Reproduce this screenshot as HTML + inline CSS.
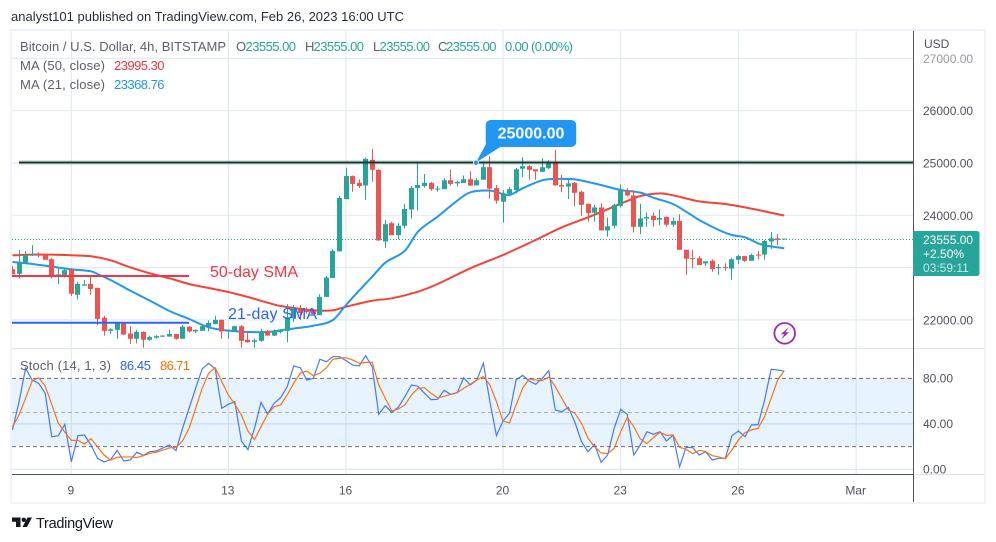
<!DOCTYPE html>
<html lang="en">
<head>
<meta charset="utf-8">
<title>Bitcoin / U.S. Dollar 4h chart</title>
<style>
html,body{margin:0;padding:0;background:#fff;width:996px;height:542px;overflow:hidden}
svg{display:block;font-family:"Liberation Sans",sans-serif}
</style>
</head>
<body>
<svg id="chart" xmlns="http://www.w3.org/2000/svg" width="996" height="542" viewBox="0 0 996 542">
  <defs>
    <clipPath id="plotClip"><rect x="12" y="31" width="901" height="443"/></clipPath>
    <clipPath id="topLabelClip"><rect x="914" y="54.5" width="70" height="14"/></clipPath>
  </defs>
  <rect x="0" y="0" width="996" height="542" fill="#ffffff"/>
  <text x="11" y="21" font-size="13" fill="#2a2e39" textLength="393" lengthAdjust="spacing">analyst101 published on TradingView.com, Feb 26, 2023 16:00 UTC</text>
  <rect x="11" y="30" width="974" height="473" fill="none" stroke="#f0f3fa" stroke-width="2"/>

  <g id="grid"></g>

  <rect x="12" y="378.3" width="901" height="67.7" fill="#2196f3" fill-opacity="0.11"/>
  <g id="stochGrid"></g>

  <g id="maLines" clip-path="url(#plotClip)"></g>
  <g id="candles" clip-path="url(#plotClip)"></g>

  <line x1="12" x2="913" y1="239.5" y2="239.5" stroke="#26a69a" stroke-width="1" stroke-dasharray="1 2"/>

  <line x1="19" x2="913" y1="162.5" y2="162.5" stroke="#0b3d30" stroke-opacity="0.25" stroke-width="4"/>
  <line x1="19" x2="913" y1="162.5" y2="162.5" stroke="#0d3b2e" stroke-width="1.8"/>

  <line x1="12" x2="189" y1="276" y2="276" stroke="#f23645" stroke-width="2"/>
  <line x1="12" x2="189" y1="322.7" y2="322.7" stroke="#2962ff" stroke-width="2"/>
  <text x="210" y="277" font-size="16" fill="#f23645" textLength="88" lengthAdjust="spacing">50-day SMA</text>
  <text x="228" y="319" font-size="16" fill="#2962ff" textLength="89" lengthAdjust="spacing">21-day SMA</text>

  <path d="M476 162.5 L486 144 L501 146.5 Z" fill="#2196f3"/>
  <rect x="485.7" y="120" width="90.5" height="27" rx="5" fill="#2196f3"/>
  <text x="531" y="138.3" font-size="16" font-weight="bold" fill="#ffffff" text-anchor="middle">25000.00</text>
  <circle cx="476" cy="162.7" r="2.6" fill="#2196f3" stroke="#ffffff" stroke-width="0.7"/>

  <g font-size="13">
    <text x="20" y="51" fill="#5d606b" textLength="206" lengthAdjust="spacing">Bitcoin / U.S. Dollar, 4h, BITSTAMP</text>
    <text x="236" y="51" fill="#5d606b">O</text>
    <text x="245.500" y="51" fill="#26a69a" textLength="50.500" lengthAdjust="spacing">23555.00</text>
    <text x="305" y="51" fill="#5d606b">H</text>
    <text x="313.500" y="51" fill="#26a69a" textLength="50.500" lengthAdjust="spacing">23555.00</text>
    <text x="373" y="51" fill="#5d606b">L</text>
    <text x="379.500" y="51" fill="#26a69a" textLength="50.500" lengthAdjust="spacing">23555.00</text>
    <text x="438" y="51" fill="#5d606b">C</text>
    <text x="446" y="51" fill="#26a69a" textLength="50.500" lengthAdjust="spacing">23555.00</text>
    <text x="505" y="51" fill="#26a69a" textLength="68" lengthAdjust="spacing">0.00 (0.00%)</text>
    <text x="20" y="70" fill="#5d606b" textLength="85" lengthAdjust="spacing">MA (50, close)</text>
    <text x="114" y="70" fill="#f23645" textLength="50.500" lengthAdjust="spacing">23995.30</text>
    <text x="20" y="89" fill="#5d606b" textLength="85" lengthAdjust="spacing">MA (21, close)</text>
    <text x="114" y="89" fill="#2196f3" textLength="50.500" lengthAdjust="spacing">23368.76</text>
    <text x="20" y="370" fill="#5d606b" textLength="91" lengthAdjust="spacing">Stoch (14, 1, 3)</text>
    <text x="120" y="370" fill="#2962ff" textLength="31" lengthAdjust="spacing">86.45</text>
    <text x="160" y="370" fill="#ff6d00" textLength="30" lengthAdjust="spacing">86.71</text>
  </g>

  <g id="stochLines" clip-path="url(#plotClip)"></g>

  <line x1="12" x2="984" y1="348.500" y2="348.500" stroke="#e0e3eb" stroke-width="1.200"/>
  <line x1="913" x2="984" y1="474.500" y2="474.500" stroke="#e0e3eb" stroke-width="1"/>
  <line x1="12" x2="913" y1="474.500" y2="474.500" stroke="#50535e" stroke-width="1"/>
  <line x1="913.500" x2="913.500" y1="31" y2="502" stroke="#50535e" stroke-width="1"/>

  <text x="924" y="48" font-size="12" fill="#50535e">USD</text>
  <g id="priceTicks"></g>
  <g id="stochTicks"></g>
  <g id="timeTicks"></g>

  <path d="M913 231 H977 a2.500 2.500 0 0 1 2.500 2.500 V273.500 a2.500 2.500 0 0 1 -2.500 2.500 H913 Z" fill="#26a69a"/>
  <text x="923" y="244" font-size="12" fill="#ffffff">23555.00</text>
  <text x="923" y="258" font-size="12" fill="#ffffff">+2.50%</text>
  <text x="923" y="272" font-size="12" fill="#ffffff" fill-opacity="0.75">03:59:11</text>

  <g>
    <circle cx="784.700" cy="333.300" r="10.300" fill="#ffffff" stroke="#9c27b0" stroke-width="1.800"/>
    <path d="M789.300 326.800 L780.800 334.300 H784.300 L781 339.800 L789 332.300 H785.300 Z" fill="#9c27b0"/>
  </g>

  <g>
    <path d="M12 517.500 H20.500 V527 H16 V521.800 H12 Z M32 517.500 L27 527 H22.500 L27.500 517.500 Z" fill="#131722"/>
    <circle cx="23.800" cy="519.800" r="2.200" fill="#131722"/>
    <text x="36" y="528" font-size="14.500" fill="#131722" textLength="77" lengthAdjust="spacing">TradingView</text>
  </g>
</svg>

<script>
var opens = [
22970,22880,23080,23240,23270,23240,23160,22860,22860,22970,
22480,22655,22690,22610,22040,21790,21810,21930,21740,21640,
21770,21620,21660,21680,21680,21730,21640,21870,21780,21790,
21870,21920,22000,21790,21790,21880,21620,21580,21600,21790,
21700,21770,21790,22030,22200,22190,22170,22090,22440,22800,
23310,24310,24750,24620,24570,25060,24870,23500,23850,23620,
23800,24110,24520,24560,24620,24500,24500,24670,24610,24620,
24690,24570,24680,24920,24520,24260,24410,24480,24890,24940,
24880,24830,24900,25010,24580,24550,24620,24450,24220,24050,
24150,23710,23800,24180,24470,24380,23780,23940,23990,23920,
23970,23820,23890,23340,23180,23180,23080,23130,22990,23010,
22980,23150,23220,23130,23250,23250,23500,23560,23555];
var highs = [
23030,23340,23320,23430,23290,23250,23180,23020,22990,22990,
22730,22760,22830,22620,22080,21840,21940,21935,21880,21810,
21780,21700,21710,21710,21820,21735,21900,21880,21820,21920,
21990,22080,22010,21820,21890,21900,21780,21640,21830,21810,
21820,21820,22300,22285,22285,22240,22210,22490,22840,23350,
24370,24910,24760,24690,25100,25270,24880,23910,23880,23850,
24220,24560,25010,24790,24640,24560,24710,24870,24660,24760,
24840,24710,25030,25130,24580,24480,24540,24910,25110,24960,
24880,25090,25060,25250,24770,24680,24640,24470,24220,24200,
24230,23960,24220,24590,24520,24480,24220,24050,24050,24110,
23975,23960,24020,23340,23340,23220,23120,23160,23070,23080,
23190,23240,23225,23270,23320,23530,23680,23640,23555];
var lows = [
22870,22790,23080,23220,23190,23150,22790,22690,22810,22460,
22390,22655,22480,21900,21700,21730,21640,21710,21540,21550,
21470,21600,21640,21670,21680,21620,21640,21760,21750,21790,
21780,21920,21640,21640,21770,21470,21565,21470,21580,21700,
21690,21740,21570,21960,22000,22120,22110,22090,22440,22800,
23310,24310,24450,24520,24290,24640,23510,23380,23620,23540,
23750,23940,24090,24530,24470,24450,24500,24570,24550,24620,
24560,24570,24680,24320,24220,23860,24410,24420,24730,24680,
24680,24830,24880,24570,24440,24310,24170,23990,23880,23880,
23710,23590,23750,24150,24360,23670,23640,23780,23780,23810,
23780,23780,23340,22860,22980,23050,23030,22920,22860,22940,
22770,23070,23110,23130,23160,23150,23350,23430,23555];
var closes = [
22870,23090,23240,23260,23250,23150,22850,22870,22950,22500,
22690,22680,22590,22020,21790,21820,21940,21720,21640,21770,
21620,21670,21690,21700,21730,21640,21870,21780,21810,21880,
21940,22000,21780,21810,21880,21600,21570,21610,21780,21700,
21790,21810,22050,22220,22130,22150,22110,22440,22810,23320,
24330,24750,24600,24560,25080,24870,23520,23830,23620,23800,
24120,24520,24580,24620,24500,24510,24670,24600,24640,24690,
24570,24670,24920,24510,24280,24420,24500,24880,24940,24870,
24840,24920,25010,24570,24550,24610,24430,24200,24040,24150,
23710,23790,24200,24480,24380,23780,23940,23970,23910,23950,
23820,23890,23340,23170,23170,23050,23120,22970,23010,22990,
23160,23220,23130,23240,23230,23510,23560,23530,23555];

var ma21Bars = [0,3,6,9,12,13,15,18,21,24,27,30,33,36,39,42,46,49,51,53,55,57,60,62,65,68,70,73,75,76,78,81,83,86,88,90,93,96,98,101,103,105,108,110,112,114,115,118];
var ma21Values = [23107,23069,23018,22967,22929,22878,22763,22559,22368,22170,22017,21858,21794,21769,21769,21820,21889,21998,22285,22560,22826,23094,23323,23687,23974,24280,24439,24471,24407,24388,24516,24669,24694,24688,24637,24580,24484,24433,24337,24216,24069,23910,23719,23623,23579,23464,23426,23368];
var ma50Bars = [0,3,6,9,12,15,18,21,24,27,30,33,36,39,41,46,49,51,55,58,62,65,70,75,80,84,88,94,96,99,101,105,109,113,118];
var ma50Values = [23235,23247,23247,23235,23216,23139,23005,22891,22795,22687,22610,22534,22438,22330,22266,22184,22184,22252,22367,22413,22539,22686,22987,23241,23528,23770,23961,24274,24369,24420,24382,24267,24216,24127,23995];

var stochK = [
34.6,59.5,88.9,78.6,75.7,66.9,28.7,29.6,39.6,6.7,
29.6,30.2,21.4,9.7,6.5,8.5,16.7,7.3,8.2,15.0,
12.3,15.5,16.1,18.8,21.4,16.4,36.1,53.7,71.3,88.3,
93.3,88.3,53.7,57.2,59.5,24.9,17.3,36.1,58.9,48.7,
58.1,63.0,72.7,90.9,89.4,78.6,80.1,96.8,94.7,99.1,
99.1,95.6,91.8,90.9,100,90.3,48.4,56.0,50.1,54.8,
63.9,74.2,73.0,66.9,61.3,61.6,69.5,66.0,67.4,80.6,
74.2,78.6,93.3,59.5,29.6,42.5,49.3,78.6,82.7,77.7,
74.8,80.1,86.8,52.2,50.7,54.5,41.3,24.3,15.5,22.0,
6.2,12.6,36.1,52.8,48.4,12.6,21.4,33.1,30.8,33.1,
24.9,30.2,2.3,19.4,19.1,12.6,15.5,8.2,9.7,9.7,
29.6,33.7,28.7,39.0,39.3,61.0,88.0,87.4,86.45];
var stochD = [
37.5,47.8,62.5,77.7,80.6,73.3,57.2,40.5,32.6,25.5,
25.5,22.3,27.0,19.9,12.6,8.2,10.6,10.9,10.9,10.3,
12.0,14.1,15.0,17.0,18.8,19.4,24.9,36.1,53.7,71.3,
84.5,89.4,77.1,65.4,57.2,47.8,33.7,26.1,37.5,48.4,
55.1,56.6,65.4,75.7,84.5,86.5,82.4,84.5,89.4,96.8,
97.7,98.2,96.2,93.3,94.1,94.1,74.2,62.5,51.3,53.1,
56.6,65.4,71.3,71.8,66.9,63.0,64.2,66.0,67.4,71.3,
74.8,78.6,81.8,74.2,59.5,42.5,40.8,56.6,71.3,79.5,
78.6,78.0,81.2,72.7,62.5,52.2,49.3,40.5,27.3,19.9,
14.4,13.8,18.5,33.1,45.7,37.5,26.7,22.6,27.9,32.6,
29.9,30.2,19.4,17.6,13.8,16.7,15.5,12.0,10.9,9.4,
17.0,25.8,32.3,34.6,36.1,46.3,62.5,78.6,86.71];

var priceTicks = [27000,26000,25000,24000,23000,22000];
var priceTickLabels = ["27000.00","26000.00","25000.00","24000.00","","22000.00"];
var stochTicks = [40,0];
var stochAxisValues = [80,40,0];
var stochAxisLabels = ["80.00","40.00","0.00"];
var stochDashLevels = [80,50,20];
var timeBars = [9,33,51,75,93,111,129];
var timeLabels = ["9","13","16","20","23","26","Mar"];

var NS = "http://www.w3.org/2000/svg";
function xOf(bar) { return 12.5 + 6.54 * bar; }
function yPrice(p) { return 215.3 - (p - 24000) * 0.0523; }
function yStoch(v) { return 469.33 - 1.1367 * v; }
function make(tag, parent) {
  var el = document.createElementNS(NS, tag);
  parent.appendChild(el);
  return el;
}
function set(el, k, v) { el.setAttribute(k, v); }
function pointsFrom(bars, vals, yFn) {
  return vals.map(function (v, i) {
    return xOf(bars[i]).toFixed(2) + "," + yFn(v).toFixed(2);
  }).join(" ");
}
function smoothPath(bars, vals, yFn) {
  var pts = vals.map(function (v, i) { return [xOf(bars[i]), yFn(v)]; });
  var d = "M" + pts[0][0].toFixed(2) + " " + pts[0][1].toFixed(2);
  for (var i = 0; i < pts.length - 1; i++) {
    var p0 = pts[Math.max(0, i - 1)], p1 = pts[i], p2 = pts[i + 1], p3 = pts[Math.min(pts.length - 1, i + 2)];
    var k = (p2[0] - p1[0]) / 3;
    var s1 = (p2[1] - p0[1]) / (p2[0] - p0[0]);
    var s2 = (p3[1] - p1[1]) / (p3[0] - p1[0]);
    d += " C" + (p1[0] + k).toFixed(2) + " " + (p1[1] + s1 * k).toFixed(2) + " " +
         (p2[0] - k).toFixed(2) + " " + (p2[1] - s2 * k).toFixed(2) + " " +
         p2[0].toFixed(2) + " " + p2[1].toFixed(2);
  }
  return d;
}
function seq(n) {
  var a = [];
  for (var i = 0; i < n; i++) a.push(i);
  return a;
}

var gridG = document.getElementById("grid");
priceTicks.forEach(function (p) {
  var l = make("line", gridG);
  
  
  set(l, "x1", 12); set(l, "x2", 913);
  set(l, "y1", yPrice(p)); set(l, "y2", yPrice(p));
  set(l, "stroke", "#e1ebf3"); set(l, "stroke-width", 1.2);
});
stochTicks.forEach(function (v) {
  var l = make("line", gridG);
  
  
  set(l, "x1", 12); set(l, "x2", 913);
  set(l, "y1", yStoch(v)); set(l, "y2", yStoch(v));
  set(l, "stroke", "#d8e6f1"); set(l, "stroke-width", 1.2);
});
timeBars.forEach(function (b) {
  var l = make("line", gridG);
  
  
  set(l, "x1", xOf(b)); set(l, "x2", xOf(b));
  set(l, "y1", 31); set(l, "y2", 474);
  set(l, "stroke", "#e1ebf3"); set(l, "stroke-width", 1.2);
});

var dashG = document.getElementById("stochGrid");
stochDashLevels.forEach(function (v) {
  var l = make("line", dashG);
  
  
  set(l, "x1", 12); set(l, "x2", 913);
  set(l, "y1", yStoch(v)); set(l, "y2", yStoch(v));
  set(l, "stroke", v === 50 ? "#b0b3bb" : "#6d7079");
  set(l, "stroke-width", 1);
  set(l, "stroke-dasharray", "4 3");
});

var maG = document.getElementById("maLines");
var ma50Line = make("path", maG);


set(ma50Line, "d", smoothPath(ma50Bars, ma50Values, yPrice));
set(ma50Line, "fill", "none"); set(ma50Line, "stroke", "#f44336");
set(ma50Line, "stroke-width", 2); set(ma50Line, "stroke-linejoin", "round");
var ma21Line = make("path", maG);


set(ma21Line, "d", smoothPath(ma21Bars, ma21Values, yPrice));
set(ma21Line, "fill", "none"); set(ma21Line, "stroke", "#2196f3");
set(ma21Line, "stroke-width", 2); set(ma21Line, "stroke-linejoin", "round");

var cG = document.getElementById("candles");
opens.forEach(function (o, i) {
  var c = closes[i], up = c >= o, col = up ? "#26a69a" : "#ef5350";
  var cx = Math.round(xOf(i) - 0.5) + 0.5;
  var wick = make("line", cG);
  
  
  set(wick, "x1", cx); set(wick, "x2", cx);
  set(wick, "y1", yPrice(highs[i])); set(wick, "y2", yPrice(lows[i]));
  set(wick, "stroke", col); set(wick, "stroke-width", 1);
  var body = make("rect", cG);
  
  
  var top = yPrice(Math.max(o, c));
  var h = Math.max(1, Math.abs(yPrice(o) - yPrice(c)));
  set(body, "x", cx - 2.5); set(body, "width", 5);
  set(body, "y", top); set(body, "height", h);
  set(body, "fill", col);
});

var sG = document.getElementById("stochLines");
var kLine = make("polyline", sG);


set(kLine, "points", pointsFrom(seq(stochK.length), stochK, yStoch));
set(kLine, "fill", "none"); set(kLine, "stroke", "#2962ff");
set(kLine, "stroke-opacity", 0.85); set(kLine, "stroke-width", 1.2);
var dLine = make("polyline", sG);


set(dLine, "points", pointsFrom(seq(stochD.length), stochD, yStoch));
set(dLine, "fill", "none"); set(dLine, "stroke", "#ff6d00");
set(dLine, "stroke-opacity", 0.95); set(dLine, "stroke-width", 1.2);

var pT = document.getElementById("priceTicks");
priceTicks.forEach(function (p, i) {
  if (!priceTickLabels[i]) return;
  var t = make("text", pT);
  
  
  set(t, "x", 923); set(t, "y", yPrice(p) + 4.5);
  set(t, "font-size", 12); set(t, "fill", "#50535e");
  if (i === 0) { set(t, "clip-path", "url(#topLabelClip)"); set(t, "fill-opacity", 0.6); }
  t.textContent = priceTickLabels[i];
});
var sT = document.getElementById("stochTicks");
stochAxisValues.forEach(function (v, i) {
  var t = make("text", sT);
  
  
  set(t, "x", 923); set(t, "y", yStoch(v) + 4.2);
  set(t, "font-size", 12); set(t, "fill", "#50535e");
  t.textContent = stochAxisLabels[i];
});
var tT = document.getElementById("timeTicks");
timeBars.forEach(function (b, i) {
  var t = make("text", tT);
  
  
  set(t, "x", xOf(b) - 0.5); set(t, "y", 494.5);
  set(t, "font-size", 12); set(t, "fill", "#50535e");
  set(t, "text-anchor", "middle");
  t.textContent = timeLabels[i];
});
</script>
</body>
</html>
